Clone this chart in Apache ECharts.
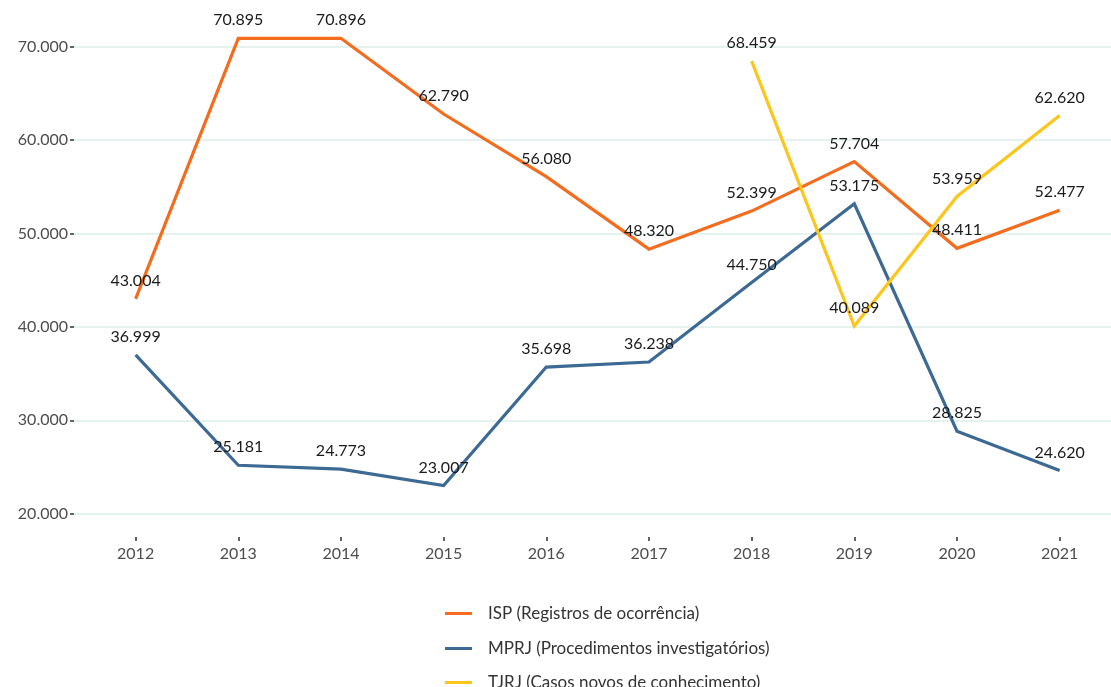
<!DOCTYPE html>
<html>
<head>
<meta charset="utf-8">
<script src="https://cdn.jsdelivr.net/npm/echarts@6/dist/echarts.min.js"></script>
<style>
  html, body { margin: 0; padding: 0; background: #fff; }
  #chart { width: 1111px; height: 687px; }
</style>
</head>
<body>
<div id="chart"></div>
<script>
// dados
const years = [2012, 2013, 2014, 2015, 2016, 2017, 2018, 2019, 2020, 2021];
const ispValues = [43004, 70895, 70896, 62790, 56080, 48320, 52399, 57704, 48411, 52477];
const mprjValues = [36999, 25181, 24773, 23007, 35698, 36238, 44750, 53175, 28825, 24620];
const tjrjYears = [2018, 2019, 2020, 2021];
const tjrjValues = [68459, 40089, 53959, 62620];
const yTicks = [20000, 30000, 40000, 50000, 60000, 70000];

const seriesNames = [
    'ISP (Registros de ocorrência)',
    'MPRJ (Procedimentos investigatórios)',
    'TJRJ (Casos novos de conhecimento)'
];
const colors = ['#f46d1f', '#3c6a94', '#fdc61c'];

// formata 70000 -> 70.000
const fmt = v => String(Math.round(v)).replace(/\B(?=(\d{3})+(?!\d))/g, '.');

const chart = echarts.init(document.getElementById('chart'));

const makeSeries = (name, xs, ys, color) => ({
    name: name,
    type: 'line',
    data: xs.map((x, i) => [x, ys[i]]),
    color: color,
    symbol: 'circle',
    symbolSize: 0.1,
    lineStyle: { width: 3.2, color: color, join: 'miter' },
    label: {
        show: true,
        position: 'top',
        distance: 10,
        color: '#1a1a1a',
        fontFamily: 'Lato',
        fontSize: 16,
        formatter: p => fmt(p.value[1])
    },
    emphasis: { disabled: true },
    animation: false
});

// uma legenda por série, empilhadas
const legendTops = [600, 635, 669];
const legends = seriesNames.map((n, i) => ({
    orient: 'vertical',
    left: 440,
    top: legendTops[i],
    itemWidth: 27,
    itemHeight: 3,
    icon: 'rect',
    textStyle: {
        color: '#333',
        fontFamily: 'Lato',
        fontSize: 17,
        padding: [0, 0, 0, 11]
    },
    data: [n]
}));

const option = {
    backgroundColor: '#fff',
    grid: { left: 74, right: 0, top: 14, bottom: 150 },
    xAxis: {
        type: 'value',
        min: 2011.4,
        max: 2021.5,
        axisLine: { show: false },
        axisTick: { show: true, length: 4, lineStyle: { color: '#333', width: 1.5 }, customValues: years },
        axisLabel: {
            customValues: years,
            margin: 9,
            color: '#4d4d4d',
            fontFamily: 'Lato',
            fontSize: 16,
            formatter: v => String(v)
        },
        splitLine: { show: false }
    },
    yAxis: {
        type: 'value',
        min: 17500,
        max: 73500,
        axisLine: { show: false },
        axisTick: { show: true, length: 4, lineStyle: { color: '#333', width: 1.5 }, customValues: yTicks },
        axisLabel: {
            customValues: yTicks,
            margin: 6,
            color: '#4d4d4d',
            fontFamily: 'Lato',
            fontSize: 16,
            formatter: v => fmt(v)
        },
        splitLine: { show: true, lineStyle: { color: '#dcefea', width: 1.5 } }
    },
    legend: legends,
    series: [
        makeSeries(seriesNames[0], years, ispValues, colors[0]),
        makeSeries(seriesNames[1], years, mprjValues, colors[1]),
        makeSeries(seriesNames[2], tjrjYears, tjrjValues, colors[2])
    ]
};

chart.setOption(option);
</script>
</body>
</html>
